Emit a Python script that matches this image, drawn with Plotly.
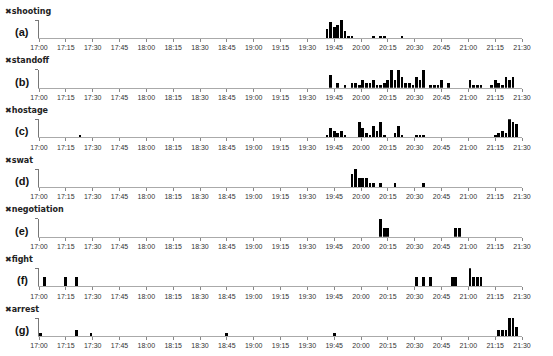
import plotly.graph_objects as go

categories = ["shooting", "standoff", "hostage", "swat", "negotiation", "fight", "arrest"]
panel_labels = ["(a)", "(b)", "(c)", "(d)", "(e)", "(f)", "(g)"]
tick_labels = ["17:00", "17:15", "17:30", "17:45", "18:00", "18:15", "18:30", "18:45", "19:00",
               "19:15", "19:30", "19:45", "20:00", "20:15", "20:30", "20:45", "21:00", "21:15", "21:30"]

# 2-minute bins: start time of bin, count of posts
shooting_t = ["19:40", "19:42", "19:44", "19:46", "19:48", "19:50", "19:52", "19:54", "20:06", "20:10", "20:12", "20:22"]
shooting_v = [4, 7, 5, 6, 8, 3, 1, 1, 1, 1, 1, 1]

standoff_t = ["19:42", "19:46", "19:50", "19:54", "19:56", "19:58", "20:00", "20:02", "20:04", "20:06", "20:08",
              "20:10", "20:12", "20:14", "20:16", "20:18", "20:20", "20:22", "20:24", "20:26", "20:28", "20:30",
              "20:32", "20:34", "20:38", "20:40", "20:42", "20:44", "20:48", "21:00", "21:02", "21:04", "21:06",
              "21:12", "21:14", "21:16", "21:18", "21:20", "21:22", "21:24"]
standoff_v = [5, 2, 1, 2, 2, 1, 3, 2, 2, 3, 1, 1, 2, 3, 7, 3, 7, 4, 2, 2, 1, 4, 3, 7, 1, 1, 1, 3, 2, 3, 1, 1, 1,
              1, 3, 2, 1, 4, 3, 4]

hostage_t = ["17:22", "19:40", "19:42", "19:44", "19:46", "19:48", "19:50", "19:58", "20:00", "20:02", "20:04",
             "20:06", "20:08", "20:10", "20:12", "20:18", "20:20", "20:22", "20:30", "20:32", "20:34", "21:14",
             "21:16", "21:18", "21:20", "21:22", "21:24", "21:26"]
hostage_v = [1, 1, 4, 3, 2, 3, 1, 7, 4, 2, 1, 5, 3, 7, 1, 2, 5, 1, 1, 1, 1, 1, 2, 3, 2, 8, 7, 6]

swat_t = ["19:54", "19:56", "19:58", "20:00", "20:02", "20:04", "20:06", "20:10", "20:18", "20:34"]
swat_v = [3, 4, 2, 2, 2, 1, 1, 1, 1, 1]

negotiation_t = ["20:10", "20:12", "20:14", "20:52", "20:54"]
negotiation_v = [2, 1, 1, 1, 1]

fight_t = ["17:02", "17:14", "17:20", "20:30", "20:34", "20:38", "20:50", "20:52", "21:00", "21:02", "21:04", "21:06"]
fight_v = [1, 1, 1, 1, 1, 1, 1, 1, 2, 1, 1, 1]

arrest_t = ["17:00", "17:20", "17:28", "18:44", "19:44", "21:16", "21:18", "21:20", "21:22", "21:24", "21:26"]
arrest_v = [1, 2, 1, 1, 1, 2, 2, 2, 6, 6, 3]

series = [(shooting_t, shooting_v), (standoff_t, standoff_v), (hostage_t, hostage_v), (swat_t, swat_v),
          (negotiation_t, negotiation_v), (fight_t, fight_v), (arrest_t, arrest_v)]


def to_min(t):
    h, m = t.split(":")
    return (int(h) - 17) * 60 + int(m)


W, H = 553, 356
L, R = 39, 31
PW = W - L - R
base0, step, ph = 38, 49.67, 18

fig = go.Figure()
annotations = []
layout = {}
for i, (name, lab, (ts, vs)) in enumerate(zip(categories, panel_labels, series)):
    n = "" if i == 0 else str(i + 1)
    fig.add_trace(go.Bar(x=[to_min(t) + 1 for t in ts], y=vs, width=1.5,
                         marker=dict(color="black", line=dict(width=0)),
                         xaxis="x" + n, yaxis="y" + n, showlegend=False, hoverinfo="skip"))
    b = base0 + step * i
    ymax = max(vs)
    layout["xaxis" + n] = dict(domain=[0, 1], anchor="y" + n, range=[0, 270],
                               tickvals=list(range(0, 271, 15)), ticktext=tick_labels,
                               ticks="outside", ticklen=3, tickcolor="#888", showline=True,
                               linecolor="#aaa", linewidth=1, showgrid=False, zeroline=False,
                               tickfont=dict(family="Liberation Sans", size=7, color="#333"))
    layout["yaxis" + n] = dict(domain=[1 - b / H, 1 - (b - ph) / H], anchor="x" + n,
                               range=[0, ymax], tickvals=[ymax], ticks="outside", ticklen=3,
                               tickcolor="#777", showticklabels=False, showline=True,
                               linecolor="#777", linewidth=1, showgrid=False, zeroline=False)
    annotations.append(dict(text="<b>✖" + name + "</b>", x=(3 - L) / PW, y=1 - (b - 27) / H,
                            xref="paper", yref="paper", xanchor="left", yanchor="middle",
                            showarrow=False, font=dict(family="DejaVu Sans", size=8, color="#222")))
    annotations.append(dict(text="<b>" + lab + "</b>", x=(22 - L) / PW, y=1 - (b - 6) / H,
                            xref="paper", yref="paper", xanchor="center", yanchor="middle",
                            showarrow=False, font=dict(family="Liberation Sans", size=11, color="#111")))

fig.update_layout(width=W, height=H, margin=dict(l=L, r=R, t=0, b=0),
                  paper_bgcolor="white", plot_bgcolor="white", bargap=0,
                  annotations=annotations, **layout)
fig.write_html("out.html", config={"displayModeBar": False, "staticPlot": True},
               post_script="document.body.style.margin='0';document.body.style.overflow='hidden';")
